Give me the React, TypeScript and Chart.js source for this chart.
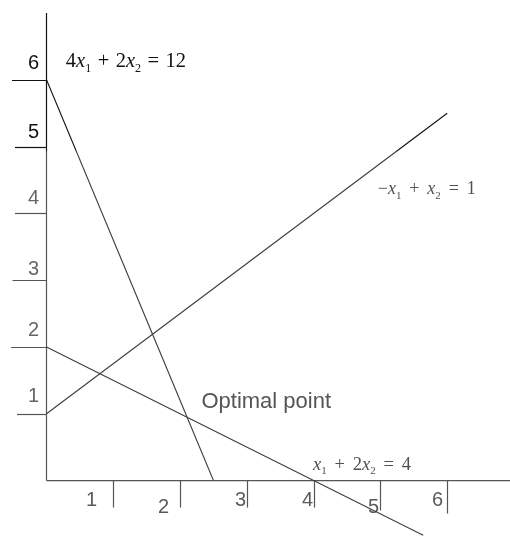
import React, { useEffect, useRef } from 'react';
import { Chart, registerables } from 'chart.js';

Chart.register(...registerables);

// ---- data ----
const xTickValues = [1, 2, 3, 4, 5, 6];
const xTickLabels = ['1', '2', '3', '4', '5', '6'];
const yTickValues = [1, 2, 3, 4, 5, 6];
const yTickLabels = ['1', '2', '3', '4', '5', '6'];

// constraint lines, as drawn in the sketch (end points in x1, x2 units)
const constraintA = [{ x: 0, y: 6 }, { x: 2.5, y: 0 }];      // 4x1 + 2x2 = 12
const constraintB = [{ x: 0, y: 1 }, { x: 6, y: 5.5 }];      // -x1 + x2 = 1
const constraintC = [{ x: 0, y: 2 }, { x: 5.64, y: -0.82 }]; // x1 + 2x2 = 4

const xAxisMax = 6.94;
const yAxisMax = 7.0;
const yAxisMin = -0.83;

// equation labels: [text, kind] n = normal, i = italic, s = subscript
const eqA: [string, string][] = [['4', 'n'], ['x', 'i'], ['1', 's'], [' + 2', 'n'], ['x', 'i'], ['2', 's'], [' = 12', 'n']];
const eqB: [string, string][] = [['\u2212', 'n'], ['x', 'i'], ['1', 's'], [' + ', 'n'], ['x', 'i'], ['2', 's'], [' = 1', 'n']];
const eqC: [string, string][] = [['x', 'i'], ['1', 's'], [' + 2', 'n'], ['x', 'i'], ['2', 's'], [' = 4', 'n']];
const optimalText = 'Optimal point';

// ---- layout / style (kept apart from data) ----
const DARK = '#111111';
const GREY = '#555555';
const LINE_GREY = '#3c3c3c';
const SPLIT_Y = 150; // the scan is darker above this pixel row

const yTickLen = [29.5, 35.5, 34, 31.5, 31.5, 34.5];
const yLabelDy = [-13, -12, -6, -10, -10, -12];
const xTickLen = [27, 27, 27, 27, 30, 33];
const xLabelDx = [-22, -17, -7, -7, -7, -10];
const xLabelDy = [25, 32, 25, 25, 32, 25];

const annotations = [
  { segs: eqA, x: 0.29, y: 6.19, size: 20.5, gap: 1.3 },
  { segs: eqB, x: 4.96, y: 4.29, size: 18, gap: 3.4 },
  { segs: eqC, x: 3.99, y: 0.16, size: 18.5, gap: 3.2 },
];
const optimalAnchor = { x: 2.32, y: 1.08, size: 22 };

function colAt(py: number, dark: string, grey: string) {
  return py < SPLIT_Y ? dark : grey;
}

function splitGradient(ctx: CanvasRenderingContext2D, grey: string) {
  const g = ctx.createLinearGradient(0, 0, 0, 536);
  const s = SPLIT_Y / 536;
  g.addColorStop(0, DARK);
  g.addColorStop(s, DARK);
  g.addColorStop(s + 0.004, grey);
  g.addColorStop(1, grey);
  return g;
}

function drawMath(ctx: CanvasRenderingContext2D, segs: [string, string][], x: number, y: number, size: number, gap: number, color: string) {
  let cx = x;
  ctx.fillStyle = color;
  ctx.textBaseline = 'alphabetic';
  ctx.textAlign = 'left';
  for (const [t, k] of segs) {
    if (k === 'i') ctx.font = `italic ${size}px "Liberation Serif"`;
    else if (k === 's') ctx.font = `${Math.round(size * 0.6)}px "Liberation Serif"`;
    else ctx.font = `${size}px "Liberation Serif"`;
    const dy = k === 's' ? size * 0.25 : 0;
    if (k === 'n') {
      for (const ch of t) {
        if (ch === ' ') {
          cx += ctx.measureText(' ').width + gap;
        } else {
          ctx.fillText(ch, cx, y);
          cx += ctx.measureText(ch).width;
        }
      }
    } else {
      ctx.fillText(t, cx, y + dy);
      cx += ctx.measureText(t).width;
    }
  }
}

const decorPlugin = {
  id: 'lpDecor',
  beforeDatasetsDraw(chart: any) {
    const ctx: CanvasRenderingContext2D = chart.ctx;
    const xs = chart.scales.x;
    const ys = chart.scales.y;
    const x0 = xs.getPixelForValue(0);
    const y0 = ys.getPixelForValue(0);
    ctx.save();
    ctx.lineWidth = 1.2;
    // y axis
    ctx.strokeStyle = splitGradient(ctx, GREY);
    ctx.beginPath();
    ctx.moveTo(x0, ys.getPixelForValue(yAxisMax));
    ctx.lineTo(x0, y0);
    ctx.stroke();
    // x axis
    ctx.strokeStyle = GREY;
    ctx.beginPath();
    ctx.moveTo(x0, y0);
    ctx.lineTo(xs.getPixelForValue(xAxisMax), y0);
    ctx.stroke();
    // y ticks + labels
    ctx.font = '20px "Liberation Sans"';
    ctx.textAlign = 'right';
    ctx.textBaseline = 'alphabetic';
    yTickValues.forEach((v, i) => {
      const py = Math.round(ys.getPixelForValue(v)) + 0.5;
      ctx.strokeStyle = colAt(py, DARK, GREY);
      ctx.beginPath();
      ctx.moveTo(x0 - yTickLen[i], py);
      ctx.lineTo(x0, py);
      ctx.stroke();
      ctx.fillStyle = colAt(py, DARK, '#666666');
      ctx.fillText(yTickLabels[i], x0 - 7.5, py + yLabelDy[i]);
    });
    // x ticks + labels
    ctx.textAlign = 'center';
    xTickValues.forEach((v, i) => {
      const px = Math.round(xs.getPixelForValue(v)) + 0.5;
      ctx.strokeStyle = GREY;
      ctx.beginPath();
      ctx.moveTo(px, y0);
      ctx.lineTo(px, y0 + xTickLen[i]);
      ctx.stroke();
      ctx.fillStyle = '#5a5a5a';
      ctx.fillText(xTickLabels[i], px + xLabelDx[i], y0 + xLabelDy[i]);
    });
    ctx.restore();
  },
  afterDatasetsDraw(chart: any) {
    const ctx: CanvasRenderingContext2D = chart.ctx;
    const xs = chart.scales.x;
    const ys = chart.scales.y;
    ctx.save();
    annotations.forEach((a) => {
      const px = xs.getPixelForValue(a.x);
      const py = ys.getPixelForValue(a.y);
      drawMath(ctx, a.segs, px, py, a.size, a.gap, colAt(py, DARK, '#505050'));
    });
    ctx.font = `${optimalAnchor.size}px "Liberation Sans"`;
    ctx.fillStyle = '#555555';
    ctx.textAlign = 'left';
    ctx.textBaseline = 'alphabetic';
    ctx.fillText(optimalText, xs.getPixelForValue(optimalAnchor.x), ys.getPixelForValue(optimalAnchor.y));
    ctx.restore();
  },
};

export default function App() {
  const ref = useRef<HTMLCanvasElement | null>(null);
  useEffect(() => {
    document.body.style.margin = '0';
    const canvas = ref.current;
    if (!canvas) return;
    const lineDs = (data: { x: number; y: number }[]) => ({
      data,
      showLine: true,
      pointRadius: 0,
      borderWidth: 1.1,
      borderColor: (c: any) => splitGradient(c.chart.ctx, LINE_GREY),
      fill: false,
    });
    const chart = new Chart(canvas, {
      type: 'scatter',
      data: { datasets: [lineDs(constraintA), lineDs(constraintB), lineDs(constraintC)] as any },
      options: {
        animation: false,
        responsive: false,
        maintainAspectRatio: false,
        events: [],
        layout: { padding: { left: 46.5, top: 13, right: 0, bottom: 0 } },
        plugins: { legend: { display: false }, tooltip: { enabled: false } },
        scales: {
          x: { type: 'linear', min: 0, max: xAxisMax, display: false },
          y: { type: 'linear', min: yAxisMin, max: yAxisMax, display: false },
        },
      },
      plugins: [decorPlugin],
    });
    return () => chart.destroy();
  }, []);
  return (
    <div style={{ width: 510, height: 536, background: '#ffffff' }}>
      <canvas ref={ref} width={510} height={536} style={{ display: 'block' }} />
    </div>
  );
}
